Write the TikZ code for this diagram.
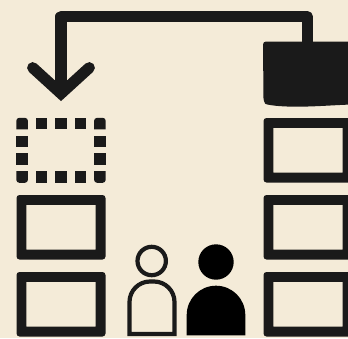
\documentclass[tikz,border=0pt]{standalone}
\usepackage{tikz}
\usetikzlibrary{calc}
\definecolor{paper}{HTML}{F4EBD8}
\definecolor{ink}{HTML}{1A1A1A}
\tikzset{
  slotbox/.style={fill=ink, even odd rule},
  dashbit/.style={fill=ink},
  moveline/.style={draw=ink, line width=11.2pt, line join=round},
  arrowhead/.style={draw=ink, line width=11.2pt, line cap=round, miter limit=10},
  personline/.style={draw=ink, line width=4.2pt}
}
\begin{document}
\begin{tikzpicture}[x=1pt, y=-1pt]
    % --- 1. background and frame of the picture ---
    \useasboundingbox (0,0) rectangle (348,338);
    \clip (0,0) rectangle (348,338);
    \fill[paper] (0,0) rectangle (348,338);
    \def\boxW{89}
    \def\boxH{64.5}
    \def\boxT{9.8}

    % --- 2. full slots, left column and right column ---
    \foreach \x/\y in {16.5/195, 16.5/272, 263.5/118, 263.5/195, 263.5/272}
        \fill[slotbox] [rounded corners=3pt] (\x,\y) rectangle ++(\boxW,\boxH)
            [sharp corners] ($(\x,\y)+(\boxT,\boxT)$) rectangle ($(\x,\y)+(\boxW-\boxT,\boxH-\boxT)$);

    % --- 3. empty slot drawn in small squares ---
    \foreach \x in {35.7,55.2,74.7}{
        \fill[dashbit] (\x,117.8) rectangle ++(11.6,11.6);
        \fill[dashbit] (\x,171.2) rectangle ++(11.6,11.6);
    }
    \foreach \y in {135.7,153.4}{
        \fill[dashbit] (16.3,\y) rectangle ++(11.6,11.6);
        \fill[dashbit] (94.1,\y) rectangle ++(11.6,11.6);
    }
    \fill[dashbit, rounded corners=3pt] (16.3,129.4) -- (16.3,117.8) -- (27.9,117.8) [sharp corners] -- (27.9,129.4) -- cycle;
    \fill[dashbit, rounded corners=3pt] (105.7,129.4) -- (105.7,117.8) -- (94.1,117.8) [sharp corners] -- (94.1,129.4) -- cycle;
    \fill[dashbit, rounded corners=3pt] (16.3,171.2) -- (16.3,182.8) -- (27.9,182.8) [sharp corners] -- (27.9,171.2) -- cycle;
    \fill[dashbit, rounded corners=3pt] (105.7,171.2) -- (105.7,182.8) -- (94.1,182.8) [sharp corners] -- (94.1,171.2) -- cycle;

    % --- 4. solid block at top right ---
    \fill[ink, rounded corners=3pt] (352,41.5) -- (263,41.5) -- (263.5,101)
        [sharp corners] .. controls (266,105) and (280,106.7) .. (296,106.7)
        .. controls (315,106.7) and (335,105) .. (352,104.5) -- cycle;

    % --- 5. arrow from the block to the empty slot ---
    \coordinate (block_top) at (307.3,45);
    \coordinate (arrow_tip) at (61,93.5);
    \draw[moveline] (block_top) |- (61,16.7) -- (arrow_tip);
    \draw[arrowhead] (32.7,67.7) -- (arrow_tip) -- (89.3,67.7);

    % --- 6. two persons ---
    \draw[personline] (151.7,261) circle (14.2);
    \draw[personline] (129.5,334) -- (129.5,302) arc[start angle=180, end angle=270, radius=20.5]
        -- (154,281.5) arc[start angle=270, end angle=360, radius=20.5] -- (174.5,334) -- cycle;
    \fill[black] (216,262) circle (17.7);
    \fill[black] (186.7,335.3) -- (186.7,315) arc[start angle=180, end angle=360, radius=29.3] -- (245.3,335.3) -- cycle;
\end{tikzpicture}
\end{document}
